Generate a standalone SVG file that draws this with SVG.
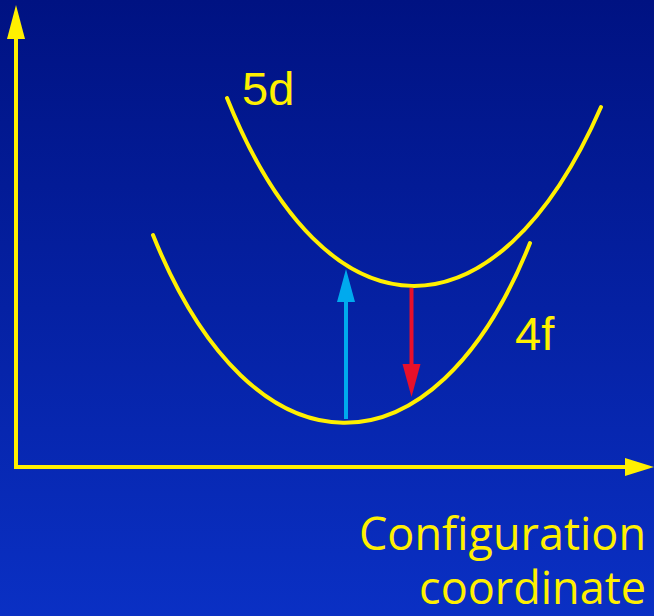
<svg xmlns="http://www.w3.org/2000/svg" width="654" height="616" viewBox="0 0 654 616">
  <defs>
    <linearGradient id="bg" x1="0" y1="0" x2="0" y2="1">
      <stop offset="0" stop-color="#001282"/>
      <stop offset="1" stop-color="#0a30c4"/>
    </linearGradient>
    <style>
      .ax { stroke: #fff000; stroke-width: 4; fill: none; }
      .axh { fill: #fff000; }
      .curve { stroke: #fff000; stroke-width: 4; fill: none; stroke-linecap: round; }
      .lbl { fill: #fff000; font-family: "Liberation Sans", Arial, sans-serif; font-size: 47px; }
      .cap { fill: #fff000; font-family: "Open Sans", "Noto Sans", sans-serif; font-size: 45px; text-anchor: end; }
    </style>
  </defs>
  <rect x="0" y="0" width="654" height="616" fill="url(#bg)"/>

  <g id="axes">
    <line class="ax" x1="16" y1="469" x2="16" y2="36"/>
    <polygon class="axh" points="16,5 7,39 25,39"/>
    <line class="ax" x1="14" y1="467" x2="627" y2="467"/>
    <polygon class="axh" points="654,467 625,458 625,476"/>
  </g>

  <g id="curve-5d">
    <path class="curve" d="M227,98 C327,347 496,347 601,107"/>
  </g>
  <g id="curve-4f">
    <path class="curve" d="M153,235 C253,484 434,484 530,243"/>
  </g>

  <g id="label-5d">
    <text class="lbl" x="242" y="105">5d</text>
  </g>
  <g id="label-4f">
    <text class="lbl" x="515" y="350">4f</text>
  </g>
  <g id="axis-label">
    <text class="cap"><tspan x="646" y="550">Configuration</tspan><tspan x="646" y="604">coordinate</tspan></text>
  </g>

  <g id="connectors">
    <g id="absorption">
      <line x1="346" y1="419" x2="346" y2="298" stroke="#00aaee" stroke-width="4"/>
      <polygon points="346,269 337,302 355,302" fill="#00aaee"/>
    </g>
    <g id="emission">
      <line x1="411.5" y1="288" x2="411.5" y2="368" stroke="#e8102a" stroke-width="4"/>
      <polygon points="411.5,397 402.5,364 420.5,364" fill="#e8102a"/>
    </g>
  </g>
</svg>
